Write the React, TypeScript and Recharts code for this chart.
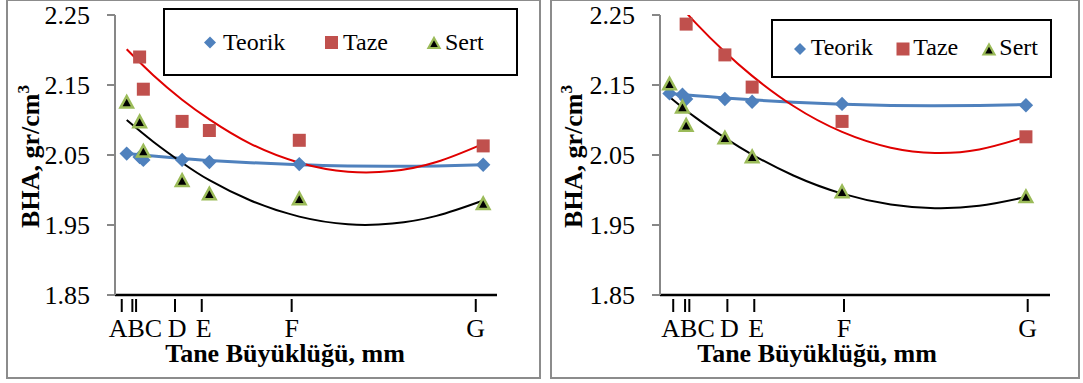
import React from "react";
import { ComposedChart, Line, Scatter, XAxis, YAxis, Legend, Label } from "recharts";

// ---------------- data ----------------
const seriesNames = ["Teorik", "Taze", "Sert"];
const xTickLabels = ["A", "B", "C", "D", "E", "F", "G"];
const yTicks = [1.85, 1.95, 2.05, 2.15, 2.25];

// x positions of the measured points (grain size scale)
const xPoints = [1.5, 2.23, 2.44, 4.63, 6.17, 11.25, 21.64];

// tick mark positions drawn under each panel
const xTicksLeft = [1.22, 1.82, 2.03, 4.23, 5.74, 10.82, 21.22];
const xTicksRight = [1.71, 2.38, 2.62, 4.77, 6.29, 11.36, 21.74];

// left panel values
const teorikLeft = [2.052, 2.047, 2.043, 2.043, 2.04, 2.037, 2.036];
const tazeLeft = [null, 2.19, 2.144, 2.098, 2.085, 2.071, 2.063];
const sertLeft = [2.126, 2.098, 2.056, 2.014, 1.995, 1.988, 1.981];

// right panel values
const teorikRight = [2.138, 2.136, 2.13, 2.13, 2.126, 2.123, 2.121];
const tazeRight = [null, null, 2.237, 2.193, 2.147, 2.098, 2.076];
const sertRight = [2.152, 2.119, 2.093, 2.075, 2.048, 1.998, 1.991];

// trend curves
const trendX = [1.5, 3, 4.63, 6.17, 8.5, 11.25, 14, 16.5, 19, 21.64];
const teorikTrendLeft = [2.052, 2.0485, 2.045, 2.042, 2.039, 2.036, 2.0343, 2.0338, 2.0343, 2.036];
const tazeTrendLeft = [2.201, 2.164, 2.129, 2.101, 2.066, 2.039, 2.026, 2.027, 2.04, 2.066];
const sertTrendLeft = [2.1, 2.069, 2.039, 2.014, 1.985, 1.962, 1.951, 1.952, 1.963, 1.985];
const teorikTrendRight = [2.138, 2.1347, 2.1315, 2.1288, 2.1254, 2.1225, 2.1208, 2.1202, 2.1206, 2.122];
const tazeTrendRight = [2.2805, 2.238, 2.197, 2.163, 2.12, 2.083, 2.0605, 2.053, 2.058, 2.076];
const sertTrendRight = [2.133, 2.103, 2.0745, 2.0507, 2.0207, 1.9948, 1.9793, 1.974, 1.9774, 1.99];

// ---------------- styles ----------------
const FONT = "'Liberation Serif', 'Times New Roman', serif";
const BLUE = "#4f81bd";
const RED = "#c0504d";
const GREEN = "#9bbb59";
const TREND_RED = "#e00000";
const AXIS_GRAY = "#878787";

const toPoints = (xs: number[], ys: (number | null)[]) =>
  xs.map((x, i) => ({ x, y: ys[i] })).filter((p) => p.y !== null && p.y !== undefined);

const diamondPath = (cx: number, cy: number, r: number) =>
  `${cx},${cy - r} ${cx + r},${cy} ${cx},${cy + r} ${cx - r},${cy}`;
const trianglePath = (cx: number, cy: number, w: number, h: number) =>
  `${cx},${cy - h / 2} ${cx + w / 2},${cy + h / 2} ${cx - w / 2},${cy + h / 2}`;

const DiamondShape = (p: any) =>
  p.cx == null || p.cy == null ? <g /> : <polygon points={diamondPath(p.cx, p.cy, 7.2)} fill={BLUE} />;
const SquareShape = (p: any) =>
  p.cx == null || p.cy == null ? <g /> : <rect x={p.cx - 6.5} y={p.cy - 6.5} width={13} height={13} fill={RED} />;
const TriangleShape = (p: any) =>
  p.cx == null || p.cy == null ? (
    <g />
  ) : (
    <polygon points={trianglePath(p.cx, p.cy, 12.5, 11.5)} fill="#000" stroke={GREEN} strokeWidth={2.5} strokeLinejoin="miter" />
  );

const YTick = (props: any) => {
  const { x, y, payload } = props;
  return (
    <text x={x - 15} y={y} dy={8.8} textAnchor="end" style={{ fontFamily: FONT, fontSize: 26, fontWeight: 400 }} fill="#000">
      {Number(payload.value).toFixed(2)}
    </text>
  );
};

const makeXTick = (labels: string[]) => (props: any) => {
  const { x, y, index } = props;
  let label = "";
  let dx = 0;
  if (index === 1) {
    label = labels[0] + labels[1] + labels[2];
    dx = 3;
  } else if (index > 2) {
    label = labels[index];
    dx = index === 3 || index === 4 ? 2 : 0;
  }
  return (
    <g>
      <line x1={x} x2={x} y1={y + 4} y2={y + 17} stroke="#000" strokeWidth={2} />
      {label ? (
        <text x={x + dx} y={y + 42} textAnchor="middle" style={{ fontFamily: FONT, fontSize: 26, fontWeight: 400 }} fill="#000">
          {label}
        </text>
      ) : null}
    </g>
  );
};

type LegendLayout = {
  left: number;
  top: number;
  w: number;
  h: number;
  marks: number[];
  texts: number[];
  baseline: number;
  markY: number;
};

const LegendBox = ({ lay }: { lay: LegendLayout }) => (
  <div
    style={{
      position: "relative",
      width: lay.w,
      height: lay.h,
      boxSizing: "border-box",
      border: "2.5px solid #000",
      background: "#fff",
    }}
  >
    <svg
      width={lay.w}
      height={lay.h}
      style={{ position: "absolute", left: -2.5, top: -2.5, overflow: "visible" }}
    >
      <polygon points={diamondPath(lay.marks[0], lay.markY, 6)} fill={BLUE} />
      <rect x={lay.marks[1] - 6.5} y={lay.markY - 6.5} width={13} height={13} fill={RED} />
      <polygon
        points={trianglePath(lay.marks[2], lay.markY + 0.5, 11, 10)}
        fill="#000"
        stroke={GREEN}
        strokeWidth={2.2}
      />
      {seriesNames.map((n, i) => (
        <text key={n} x={lay.texts[i]} y={lay.baseline} style={{ fontFamily: FONT, fontSize: 24, fontWeight: 400 }} fill="#000">
          {n}
        </text>
      ))}
    </svg>
  </div>
);

type PanelCfg = {
  width: number;
  margin: { top: number; right: number; bottom: number; left: number };
  domain: [number, number];
  ticks: number[];
  teorik: (number | null)[];
  taze: (number | null)[];
  sert: (number | null)[];
  teorikTrend: number[];
  tazeTrend: number[];
  sertTrend: number[];
  legend: LegendLayout;
  xTitleX: number;
  yTitleX: number;
};

const Panel = ({ cfg }: { cfg: PanelCfg }) => {
  const XTick = makeXTick(xTickLabels);
  return (
    <ComposedChart width={cfg.width} height={383} margin={cfg.margin}>
      <XAxis
        type="number"
        dataKey="x"
        domain={cfg.domain}
        allowDataOverflow
        ticks={cfg.ticks}
        interval={0}
        height={60}
        tickSize={0}
        tickMargin={0}
        tickLine={false}
        axisLine={{ stroke: "#000", strokeWidth: 2.5 }}
        tick={XTick}
      >
        <Label
          content={() => (
            <text x={cfg.xTitleX} y={361.5} textAnchor="middle" style={{ fontFamily: FONT, fontSize: 26, fontWeight: 700 }} fill="#000">
              Tane Büyüklüğü, mm
            </text>
          )}
        />
      </XAxis>
      <YAxis
        type="number"
        dataKey="y"
        domain={[1.85, 2.25]}
        allowDataOverflow
        ticks={yTicks}
        interval={0}
        width={60}
        tickSize={8}
        tickMargin={2}
        axisLine={{ stroke: AXIS_GRAY, strokeWidth: 2 }}
        tickLine={{ stroke: AXIS_GRAY, strokeWidth: 2 }}
        tick={YTick}
      >
        <Label
          content={() => (
            <text
              x={cfg.yTitleX}
              y={156.5}
              textAnchor="middle"
              transform={`rotate(-90, ${cfg.yTitleX}, 156.5)`}
              style={{ fontFamily: FONT, fontSize: 26, fontWeight: 700 }}
              fill="#000"
            >
              <tspan>BHA, gr/cm</tspan>
              <tspan dy={-10} style={{ fontSize: 17 }}>
                3
              </tspan>
            </text>
          )}
        />
      </YAxis>
      <Legend
        layout="horizontal"
        verticalAlign="middle"
        align="center"
        wrapperStyle={{
          position: "absolute",
          left: cfg.legend.left,
          top: cfg.legend.top,
          width: cfg.legend.w,
          height: cfg.legend.h,
          margin: 0,
          padding: 0,
        }}
        content={() => <LegendBox lay={cfg.legend} />}
      />
      <Line
        data={toPoints(trendX, cfg.teorikTrend)}
        dataKey="y"
        type="natural"
        stroke={BLUE}
        strokeWidth={3}
        dot={false}
        activeDot={false}
        legendType="none"
        isAnimationActive={false}
      />
      <Line
        data={toPoints(trendX, cfg.tazeTrend)}
        dataKey="y"
        type="natural"
        stroke={TREND_RED}
        strokeWidth={2}
        dot={false}
        activeDot={false}
        legendType="none"
        isAnimationActive={false}
      />
      <Line
        data={toPoints(trendX, cfg.sertTrend)}
        dataKey="y"
        type="natural"
        stroke="#000"
        strokeWidth={2}
        dot={false}
        activeDot={false}
        legendType="none"
        isAnimationActive={false}
      />
      <Scatter name={seriesNames[0]} data={toPoints(xPoints, cfg.teorik)} dataKey="y" shape={DiamondShape} isAnimationActive={false} />
      <Scatter name={seriesNames[1]} data={toPoints(xPoints, cfg.taze)} dataKey="y" shape={SquareShape} isAnimationActive={false} />
      <Scatter name={seriesNames[2]} data={toPoints(xPoints, cfg.sert)} dataKey="y" shape={TriangleShape} isAnimationActive={false} />
    </ComposedChart>
  );
};

const leftCfg: PanelCfg = {
  width: 541,
  margin: { top: 15, right: 44, bottom: 28, left: 55 },
  domain: [0.839, 22.42],
  ticks: xTicksLeft,
  teorik: teorikLeft,
  taze: tazeLeft,
  sert: sertLeft,
  teorikTrend: teorikTrendLeft,
  tazeTrend: tazeTrendLeft,
  sertTrend: sertTrendLeft,
  legend: { left: 163, top: 8, w: 355, h: 68, marks: [47, 168.5, 271], texts: [60, 180, 282], baseline: 42, markY: 34.5 },
  xTitleX: 285,
  yTitleX: 38.5,
};

const rightCfg: PanelCfg = {
  width: 542,
  margin: { top: 15, right: 33, bottom: 28, left: 59 },
  domain: [0.963, 23.0],
  ticks: xTicksRight,
  teorik: teorikRight,
  taze: tazeRight,
  sert: sertRight,
  teorikTrend: teorikTrendRight,
  tazeTrend: tazeTrendRight,
  sertTrend: sertTrendRight,
  legend: { left: 230, top: 19, w: 281, h: 59, marks: [29, 132, 218], texts: [39.7, 142.3, 228.3], baseline: 36, markY: 30 },
  xTitleX: 276,
  yTitleX: 40.5,
};

export default function App() {
  return (
    <div
      style={{
        position: "absolute",
        left: 0,
        top: 0,
        width: 1083,
        height: 383,
        background: "#fff",
        overflow: "hidden",
        fontFamily: FONT,
      }}
    >
      <div
        style={{
          position: "absolute",
          left: 6,
          top: -1,
          width: 535,
          height: 380,
          border: "2px solid #8c8c8c",
          boxSizing: "border-box",
        }}
      />
      <div
        style={{
          position: "absolute",
          left: 550,
          top: -1,
          width: 530,
          height: 380,
          border: "2px solid #8c8c8c",
          boxSizing: "border-box",
        }}
      />
      <div style={{ position: "absolute", left: 0, top: 0 }}>
        <Panel cfg={leftCfg} />
      </div>
      <div style={{ position: "absolute", left: 541, top: 0 }}>
        <Panel cfg={rightCfg} />
      </div>
    </div>
  );
}
